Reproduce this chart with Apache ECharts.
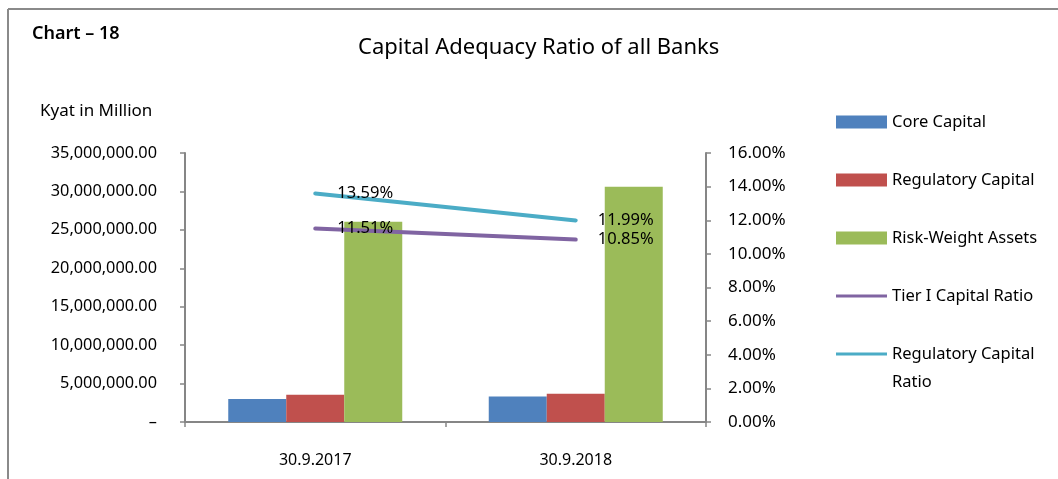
<!DOCTYPE html>
<html>
<head>
<meta charset="utf-8">
<script src="https://cdn.jsdelivr.net/npm/echarts@6/dist/echarts.min.js"></script>
<style>html,body{margin:0;padding:0;background:#fff}#c{width:1058px;height:479px}</style>
</head>
<body>
<div id="c"></div>
<script>
const categories = ['30.9.2017', '30.9.2018'];
const coreCapital = [2990000, 3310000];
const regulatoryCapital = [3530000, 3660000];
const riskWeightAssets = [26050000, 30600000];
const tier1Ratio = [11.51, 10.85];
const regulatoryRatio = [13.59, 11.99];
const leftTicks = { min: 0, max: 35000000, interval: 5000000 };
const rightTicks = { min: 0, max: 16, interval: 2 };

const FONT = 'Noto Sans';
const chart = echarts.init(document.getElementById('c'), null, { renderer: 'canvas' });

function fmtNum(v) {
  if (v === 0) return '–';
  return v.toLocaleString('en-US', { minimumFractionDigits: 2, maximumFractionDigits: 2 });
}

const axisLine = { show: true, lineStyle: { color: '#868686', width: 2 } };
const axisTick = { show: true, inside: false, length: 5, lineStyle: { color: '#868686', width: 1.5 } };
const lineLabel = { show: true, position: 'right', distance: 22, formatter: p => p.value.toFixed(2) + '%', fontFamily: FONT, fontSize: 16.5, color: '#000' };
const lineIcon = 'path://M0,0L51,0L51,3L0,3Z';
const legendBase = {
  orient: 'vertical',
  left: 831,
  itemWidth: 51,
  itemHeight: 13,
  itemGap: 30,
  symbolKeepAspect: true,
  textStyle: { fontFamily: FONT, fontSize: 16.5, color: '#000', lineHeight: 28 }
};

chart.setOption({
  animation: false,
  textStyle: { fontFamily: FONT },
  title: [
    { text: 'Chart – 18', left: 27, top: 20, textStyle: { fontFamily: FONT, fontSize: 18, fontWeight: 600, color: '#000' } },
    { text: 'Capital Adequacy Ratio of all Banks', left: 353, top: 32, textStyle: { fontFamily: FONT, fontSize: 22, fontWeight: 'normal', color: '#000' } },
    { text: 'Kyat in Million', left: 35, top: 98, textStyle: { fontFamily: FONT, fontSize: 17, fontWeight: 'normal', color: '#000' } }
  ],
  graphic: [
    { type: 'line', shape: { x1: 8, y1: 9, x2: 1058, y2: 9 }, style: { stroke: '#8a8a8a', lineWidth: 2 } },
    { type: 'line', shape: { x1: 8, y1: 9, x2: 8, y2: 479 }, style: { stroke: '#8a8a8a', lineWidth: 2 } }
  ],
  legend: [
    Object.assign({}, legendBase, {
      top: 103,
      data: [
        { name: 'Core Capital', icon: 'rect' },
        { name: 'Regulatory Capital', icon: 'rect' },
        { name: 'Risk-Weight Assets', icon: 'rect' },
        { name: 'Tier I Capital Ratio', icon: lineIcon }
      ]
    }),
    Object.assign({}, legendBase, {
      top: 307,
      formatter: function (n) { return '\nRegulatory Capital\nRatio'; },
      data: [
        { name: 'Regulatory Capital Ratio', icon: lineIcon }
      ]
    })
  ],
  grid: { left: 185, right: 352, top: 153, bottom: 57, containLabel: false },
  xAxis: {
    type: 'category',
    data: categories,
    boundaryGap: true,
    axisLine: axisLine,
    axisTick: axisTick,
    axisLabel: { margin: 30, fontFamily: FONT, fontSize: 16, color: '#000' },
    splitLine: { show: false }
  },
  yAxis: [
    {
      type: 'value', min: leftTicks.min, max: leftTicks.max, interval: leftTicks.interval,
      axisLine: axisLine, axisTick: axisTick, splitLine: { show: false },
      axisLabel: { formatter: fmtNum, margin: 28, fontFamily: FONT, fontSize: 16.3, color: '#000' }
    },
    {
      type: 'value', min: rightTicks.min, max: rightTicks.max, interval: rightTicks.interval,
      position: 'right',
      axisLine: axisLine, axisTick: axisTick, splitLine: { show: false },
      axisLabel: { formatter: v => v.toFixed(2) + '%', margin: 22, fontFamily: FONT, fontSize: 17, color: '#000' }
    }
  ],
  series: [
    { name: 'Core Capital', type: 'bar', data: coreCapital, barWidth: 58, barGap: '0%', itemStyle: { color: '#4F81BD' } },
    { name: 'Regulatory Capital', type: 'bar', data: regulatoryCapital, barWidth: 58, barGap: '0%', itemStyle: { color: '#C0504D' } },
    { name: 'Risk-Weight Assets', type: 'bar', data: riskWeightAssets, barWidth: 58, barGap: '0%', itemStyle: { color: '#9BBB59' } },
    {
      name: 'Tier I Capital Ratio', type: 'line', yAxisIndex: 1, data: tier1Ratio, symbol: 'circle', symbolSize: 0, showSymbol: true,
      lineStyle: { color: '#8064A2', width: 4, cap: 'round' }, itemStyle: { color: '#8064A2' }, z: 5,
      label: lineLabel, labelLayout: { hideOverlap: false }
    },
    {
      name: 'Regulatory Capital Ratio', type: 'line', yAxisIndex: 1, data: regulatoryRatio, symbol: 'circle', symbolSize: 0, showSymbol: true,
      lineStyle: { color: '#4BACC6', width: 4, cap: 'round' }, itemStyle: { color: '#4BACC6' }, z: 5,
      label: lineLabel, labelLayout: { hideOverlap: false }
    }
  ]
});
</script>
</body>
</html>
